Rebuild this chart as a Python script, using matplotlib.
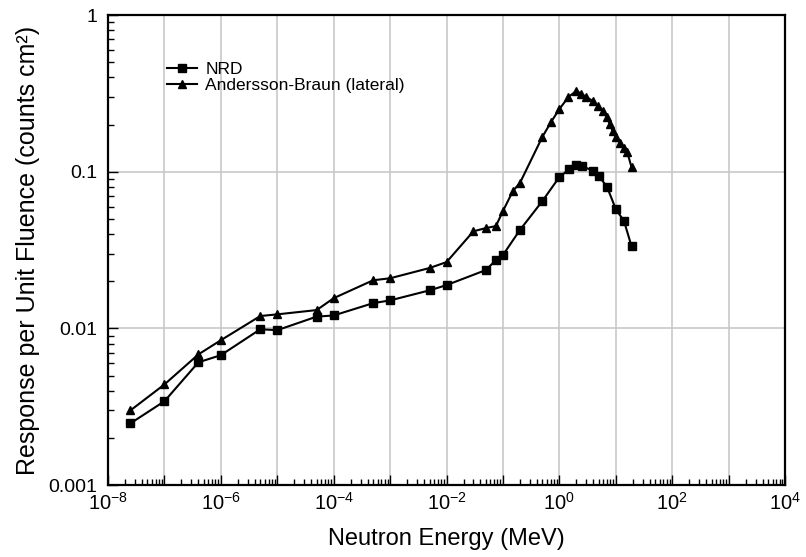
import numpy as np
import matplotlib
matplotlib.use("Agg")
import matplotlib.pyplot as plt
from matplotlib.ticker import LogLocator, FuncFormatter, NullFormatter

plt.rcParams["font.family"] = ["Liberation Sans", "DejaVu Sans"]
plt.rcParams["mathtext.fontset"] = "custom"
plt.rcParams["mathtext.rm"] = "Liberation Sans"
plt.rcParams["mathtext.default"] = "regular"

# NRD (squares)
nrd_energy = [2.5e-8, 1e-7, 4e-7, 1e-6, 5e-6, 1e-5, 5e-5, 1e-4, 5e-4, 1e-3, 5e-3, 1e-2,
              0.05, 0.075, 0.1, 0.2, 0.5, 1.0, 1.5, 2.0, 2.5, 4.0, 5.0, 7.0, 10.0, 14.0, 19.0]
nrd_resp = [0.00248, 0.00343, 0.00608, 0.00675, 0.00988, 0.00975, 0.0119, 0.0121, 0.0145, 0.0151,
            0.0175, 0.0189, 0.0236, 0.0273, 0.0294, 0.0425, 0.065, 0.0925, 0.104, 0.110, 0.109,
            0.101, 0.094, 0.080, 0.0578, 0.0484, 0.0335]

# Andersson-Braun lateral (triangles)
ab_energy = [2.5e-8, 1e-7, 4e-7, 1e-6, 5e-6, 1e-5, 5e-5, 1e-4, 5e-4, 1e-3, 5e-3, 1e-2,
             0.03, 0.05, 0.075, 0.1, 0.15, 0.2, 0.5, 0.72, 1.0, 1.45, 2.0, 2.45, 3.0, 3.9,
             4.8, 5.9, 6.9, 7.8, 8.8, 10.0, 11.7, 14.0, 16.0, 19.0]
ab_resp = [0.0030, 0.00439, 0.00683, 0.00841, 0.0120, 0.0123, 0.0131, 0.0156, 0.0203, 0.0209,
           0.0243, 0.0265, 0.0417, 0.0437, 0.045, 0.0561, 0.0753, 0.0848, 0.167, 0.209, 0.251,
           0.30, 0.328, 0.314, 0.30, 0.283, 0.263, 0.244, 0.224, 0.202, 0.182, 0.167, 0.152,
           0.141, 0.133, 0.107]

fig = plt.figure(figsize=(8.06, 5.57), dpi=100)
ax = fig.add_axes([0.134, 0.129, 0.840, 0.844])

ax.plot(nrd_energy, nrd_resp, color="black", lw=1.5, marker="s", ms=5.5, label="NRD")
ax.plot(ab_energy, ab_resp, color="black", lw=1.5, marker="^", ms=6,
        label="Andersson-Braun (lateral)")

ax.set_xscale("log")
ax.set_yscale("log")
ax.set_xlim(1e-8, 1e4)
ax.set_ylim(1e-3, 1)

ax.xaxis.set_major_locator(LogLocator(base=10, numticks=20))
ax.xaxis.set_minor_locator(LogLocator(base=10, subs=np.arange(2, 10), numticks=100))
ax.xaxis.set_minor_formatter(NullFormatter())


def xfmt(v, pos):
    e = int(round(np.log10(v)))
    if e % 2:
        return ""
    return r"$10^{%d}$" % e


ax.xaxis.set_major_formatter(FuncFormatter(xfmt))
ax.yaxis.set_major_locator(LogLocator(base=10, numticks=10))
ax.yaxis.set_minor_locator(LogLocator(base=10, subs=np.arange(2, 10), numticks=100))
ax.yaxis.set_minor_formatter(NullFormatter())
ax.yaxis.set_major_formatter(FuncFormatter(lambda v, p: "%g" % v))

ax.grid(True, which="major", color="#c8c8c8", lw=1.2)
ax.tick_params(which="both", direction="in", top=False, right=False)
ax.tick_params(axis="x", labelsize=14.5, pad=5)
ax.tick_params(axis="y", labelsize=14, pad=8)
ax.tick_params(which="major", length=7, width=1)
ax.tick_params(which="minor", length=4, width=1)
for s in ax.spines.values():
    s.set_linewidth(1.6)

ax.set_xlabel("Neutron Energy (MeV)", fontsize=17, labelpad=10)
ax.set_ylabel("Response per Unit Fluence (counts cm²)", fontsize=18, labelpad=6)

ax.legend(loc="upper left", bbox_to_anchor=(0.077, 0.915), frameon=False, fontsize=12.5,
          handlelength=1.7, handletextpad=0.5, labelspacing=0.02, borderaxespad=0)

fig.savefig("out.png", dpi=100)
